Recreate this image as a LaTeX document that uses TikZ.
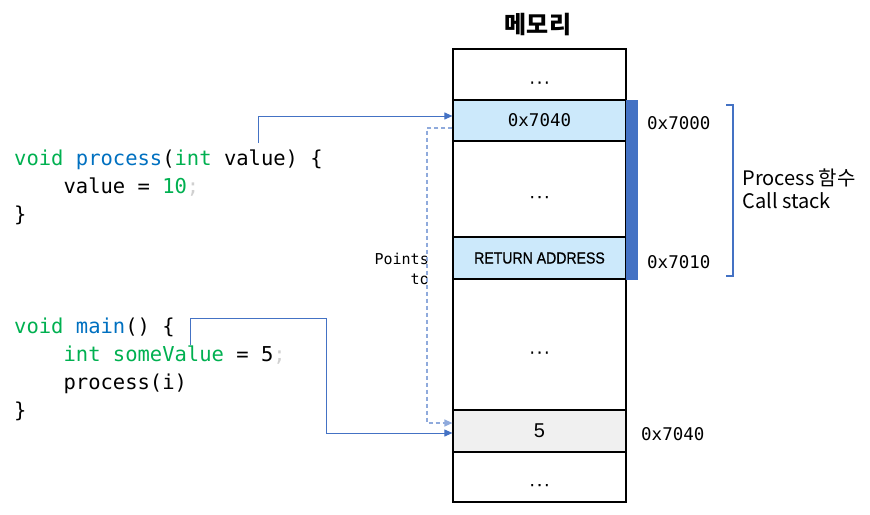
\documentclass[tikz,border=0pt]{standalone}
\usepackage{fontspec}
\setmainfont{Liberation Sans}
\setmonofont{DejaVu Sans Mono}
\newfontfamily\krfont{Noto Sans CJK KR}
\newfontfamily\medsans{Liberation Sans}[FakeBold=0.8]
\usetikzlibrary{arrows.meta, calc}
\usepackage{xcolor}
\definecolor{kwgreen}{HTML}{00B050}
\definecolor{fnblue}{HTML}{0070C0}
\definecolor{semigray}{HTML}{D0D0D0}
\definecolor{cellblue}{HTML}{CCE9FB}
\definecolor{cellgray}{HTML}{F0F0F0}
\definecolor{stackblue}{HTML}{4472C4}
\definecolor{ptrlight}{HTML}{8FAADC}
\newcommand{\celldots}{.\kern2.6pt.\kern2.6pt.}

\begin{document}
\begin{tikzpicture}[x=1pt, y=-1pt,
  cell/.style={draw, line width=1.2pt, minimum width=173pt, inner sep=0pt},
  dotcell/.style={cell, font=\medsans\fontsize{17}{17}\selectfont, text height=18pt, text depth=0pt},
  code/.style={anchor=base west, inner sep=0pt, font=\fontsize{20.5}{28}\ttfamily},
  addr/.style={anchor=west, inner sep=0pt, font=\fontsize{17.5}{20}\ttfamily},
  ptr/.style={draw=stackblue, line width=1pt, -{Triangle[length=8pt,width=7pt]}},
  dptr/.style={ptr, draw=ptrlight, line width=1.3pt, dash pattern=on 4pt off 3pt}]
  \useasboundingbox (0,0) rectangle (870,514);

  % memory cells
  \node[dotcell, minimum height=51pt] (m1) at (539.5,74.5) {\celldots};
  \node[cell, fill=cellblue, minimum height=41pt, font=\fontsize{17.5}{20}\ttfamily] (m2) at (539.5,120.5) {0x7040};
  \node[dotcell, minimum height=96pt] (m3) at (539.5,189) {\celldots};
  \node[cell, fill=cellblue, minimum height=42pt, font=\medsans\fontsize{16}{18}\selectfont] (m4) at (539.5,258) {\scalebox{0.88}[1]{RETURN ADDRESS}};
  \node[dotcell, minimum height=131pt] (m5) at (539.5,344.5) {\celldots};
  \node[cell, fill=cellgray, minimum height=42pt, font=\fontsize{20}{22}\selectfont] (m6) at (539.5,431) {5};
  \node[dotcell, minimum height=50pt] (m7) at (539.5,477) {\celldots};
  \node[fill=stackblue, draw=stackblue, minimum width=11pt, minimum height=179pt, inner sep=0pt] (bar) at (631.5,189.5) {};

  \node[font=\krfont\bfseries\fontsize{24}{26}\selectfont] (title) at (538,25) {메모리};

  \node[addr] (a1) at (647,123) {0x7000};
  \node[addr] (a2) at (647,262) {0x7010};
  \node[addr] (a3) at (641,434) {0x7040};

  \draw[stackblue, line width=1.5pt] (726,105) -- (733,105) -- (733,276) -- (726,276);
  \node[anchor=west, align=left, font=\krfont\fontsize{20}{23}\selectfont] (lbl) at (739,189) {Process 함수\\Call stack};

  \node[anchor=east, align=right, inner sep=0pt, font=\fontsize{15}{20}\ttfamily] (pt) at (429,269) {Points\\to};

  % code
  \node[code] (f1) at (14,165) {\textcolor{kwgreen}{void} \textcolor{fnblue}{process}(\textcolor{kwgreen}{int} value) \{};
  \node[code] (f2) at (14,193) {\phantom{0000}value = \textcolor{kwgreen}{10}\textcolor{semigray}{;}};
  \node[code] (f3) at (14,221) {\}};
  \node[code] (g1) at (14,333) {\textcolor{kwgreen}{void} \textcolor{fnblue}{main}() \{};
  \node[code] (g2) at (14,361) {\phantom{0000}\textcolor{kwgreen}{int someValue} = 5\textcolor{semigray}{;}};
  \node[code] (g3) at (14,389) {\phantom{0000}process(i)};
  \node[code] (g4) at (14,417) {\}};

  % pointers
  \coordinate (vtop) at (258,143);
  \coordinate (mtop) at (190,345);
  \coordinate (mturn) at (326,318);
  \coordinate (dturn) at (427,300);
  \draw[ptr] (vtop) |- ([yshift=4.5pt]m2.west);
  \draw[ptr] (mtop) |- (mturn) |- ([yshift=-2pt]m6.west);
  \draw[dptr] ([yshift=-7.5pt]m2.west) -| (dturn) |- ([yshift=8pt]m6.west);
\end{tikzpicture}
\end{document}
